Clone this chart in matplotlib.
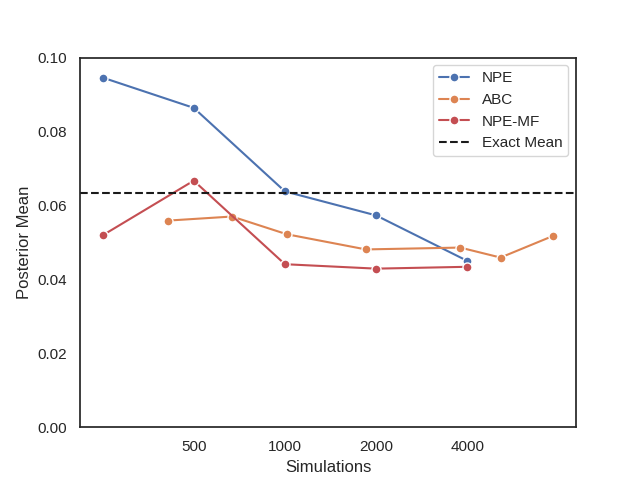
import numpy as np
import matplotlib
matplotlib.use("Agg")
import matplotlib.pyplot as plt
import seaborn as sns

# values
npe_sims = [250, 500, 1000, 2000, 4000]
npe_mean = [0.0946, 0.0864, 0.0638, 0.0573, 0.0450]

abc_sims = [411, 669, 1015, 1850, 3790, 5150, 7700]
abc_mean = [0.0559, 0.0570, 0.0522, 0.0481, 0.0486, 0.0459, 0.0518]

npemf_sims = [250, 500, 1000, 2000, 4000]
npemf_mean = [0.0519, 0.0667, 0.0441, 0.0429, 0.0434]

exact_mean = 0.0633
xticks = [500, 1000, 2000, 4000]

sns.set_theme(style="white")
plt.rcParams['font.family'] = ['Liberation Sans', 'DejaVu Sans']
pal = sns.color_palette("deep")

fig, ax = plt.subplots(figsize=(6.4, 4.8), dpi=100)
ax.plot(npe_sims, npe_mean, marker='o', color=pal[0], label='NPE',
        markeredgecolor='white', markersize=6.5, lw=1.5)
ax.plot(abc_sims, abc_mean, marker='o', color=pal[1], label='ABC',
        markeredgecolor='white', markersize=6.5, lw=1.5)
ax.plot(npemf_sims, npemf_mean, marker='o', color=pal[3], label='NPE-MF',
        markeredgecolor='white', markersize=6.5, lw=1.5)
ax.axhline(exact_mean, color='k', ls='--', label='Exact Mean', lw=1.5)

ax.set_xscale('log')
ax.set_xticks(xticks)
ax.set_xticklabels([str(t) for t in xticks])
ax.minorticks_off()
ax.set_ylim(0, 0.1)
ax.set_xlabel('Simulations')
ax.set_ylabel('Posterior Mean')
ax.legend(loc='upper right')

plt.savefig('out.png', dpi=100)
